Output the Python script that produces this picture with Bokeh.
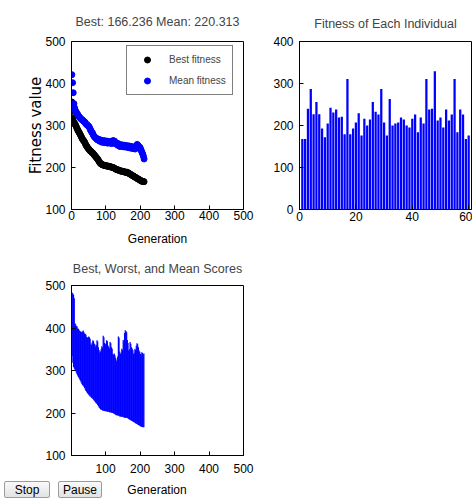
from bokeh.plotting import figure
from bokeh.layouts import column, row
from bokeh.models import Legend, LegendItem, FixedTicker, Range1d, Div
from bokeh.embed import file_html
from bokeh.resources import INLINE

# ---------------- data ----------------
gens = list(range(1, 212, 2))  # generation index (every 2nd generation)

best = [356, 334, 318, 308, 305, 302, 299, 295, 291, 288,
        285, 282, 279, 276, 272, 269, 266, 264, 262, 259,
        255, 252, 250, 247, 245, 243, 241, 239, 238, 236,
        235, 233, 231, 229, 227, 225, 223, 221, 219, 216,
        213, 211, 209, 208, 207, 206, 206, 205, 205, 204,
        204, 204, 203, 203, 203, 202, 202, 201, 201, 200,
        200, 199, 198, 197, 196, 195, 195, 194, 194, 193,
        192, 192, 191, 191, 191, 190, 190, 189, 189, 188,
        189, 188, 187, 186, 185, 184, 183, 182, 181, 180,
        179, 178, 177, 176, 175, 174, 173, 172, 171, 170,
        169, 168, 167, 167, 166.5, 166.236]

mean = [421, 402, 378, 352, 342, 336, 333, 330, 327, 325,
        322, 320, 318, 316, 315, 313, 312, 311, 309, 308,
        305, 303, 302, 300, 299, 297, 294, 290, 287, 284,
        282, 278, 275, 273, 271, 270, 268, 266, 268, 265,
        263, 266, 262, 264, 260, 263, 261, 264, 259, 262,
        260, 263, 258, 261, 259, 262, 258, 260, 257, 262,
        264, 261, 263, 260, 256, 258, 254, 257, 252, 255,
        250, 253, 251, 254, 250, 252, 249, 253, 250, 251,
        248, 252, 249, 247, 251, 248, 246, 250, 247, 245,
        249, 246, 244, 248, 251, 255, 253, 250, 246, 248,
        244, 240, 236, 232, 227, 220.313]

worst = [484, 483, 481, 478, 470, 411, 409, 405, 404, 399,
         398, 396, 393, 392, 391, 390, 392, 394, 390, 387,
         386, 384, 379, 377, 378, 380, 378, 375, 363, 360,
         366, 371, 369, 363, 361, 356, 360, 371, 368, 355,
         348, 342, 345, 350, 357, 354, 382, 378, 365, 363,
         360, 371, 369, 359, 356, 352, 367, 364, 355, 351,
         339, 337, 340, 336, 330, 322, 326, 333, 380, 377,
         345, 339, 342, 351, 348, 372, 368, 388, 395, 393,
         390, 372, 365, 347, 350, 367, 363, 355, 352, 348,
         339, 342, 351, 348, 358, 364, 362, 355, 347, 344,
         339, 336, 343, 341, 338, 340]

individuals = list(range(1, 61))
ind_fitness = [168, 168, 240, 287, 227, 256, 227, 193, 172, 205,
               242, 231, 238, 219, 221, 179, 311, 179, 193, 207,
               229, 176, 216, 200, 214, 256, 233, 226, 287, 207,
               176, 263, 200, 205, 207, 219, 214, 200, 195, 216,
               226, 184, 219, 205, 311, 238, 240, 329, 212, 219,
               195, 238, 212, 226, 311, 184, 238, 226, 168, 176]

ticks_gen = [0, 100, 200, 300, 400, 500]
ticks_gen_b = [100, 200, 300, 400, 500]
ticks_fit = [100, 200, 300, 400, 500]
ticks_ind = [0, 20, 40, 60]
ticks_ind_y = [0, 100, 200, 300, 400]

button_labels = ["Stop", "Pause"]

FONT = "Liberation Sans"
BLUE = "#0000ff"


def make_fig(width, height, bl, br, bt, bb, xr, yr, title, standoff):
    p = figure(width=width, height=height,
               x_range=Range1d(*xr), y_range=Range1d(*yr),
               output_backend="svg", toolbar_location=None,
               min_border_left=bl, min_border_right=br,
               min_border_top=bt, min_border_bottom=bb,
               title=title)
    p.title.text_font = FONT
    p.title.text_font_size = "12.5px"
    p.title.text_font_style = "normal"
    p.title.align = "center"
    p.title.standoff = standoff
    p.xgrid.visible = False
    p.ygrid.visible = False
    p.outline_line_color = "black"
    p.outline_line_alpha = 1
    p.background_fill_color = "white"
    p.border_fill_color = "white"
    return p


def style_axes(p, xticks, yticks, xstand, ystand):
    for ax in (p.below[0], p.left[0]):
        ax.major_tick_in = 4
        ax.major_tick_out = 0
        ax.minor_tick_in = 0
        ax.minor_tick_out = 0
        ax.axis_line_color = "black"
        ax.major_tick_line_color = "black"
        ax.major_label_text_font = FONT
        ax.major_label_text_font_size = "12px"
        ax.major_label_text_color = "black"
        ax.axis_label_text_font_style = "normal"
        ax.axis_label_text_color = "black"
    p.below[0].ticker = FixedTicker(ticks=xticks)
    p.left[0].ticker = FixedTicker(ticks=yticks)
    p.below[0].major_label_standoff = xstand
    p.left[0].major_label_standoff = ystand


# ---------------- top-left: best / mean fitness ----------------
p1 = make_fig(265, 248, 71, 22, 40, 39, (0, 500), (100, 500),
              "Best: 166.236 Mean: 220.313", 25)
style_axes(p1, ticks_gen, ticks_fit, 1, 6)
xa1 = p1.below[0]
xa1.axis_label = "Generation"
xa1.axis_label_text_font = FONT
xa1.axis_label_text_font_size = "12px"
xa1.axis_label_standoff = 9
ya1 = p1.left[0]
ya1.axis_label = "Fitness value"
ya1.axis_label_text_font = "DejaVu Sans"
ya1.axis_label_text_font_size = "15px"
ya1.axis_label_standoff = -3

r_best = p1.scatter(gens, best, size=6, color="black")
r_mean = p1.scatter(gens, mean, size=6, color=BLUE)
legend = Legend(items=[LegendItem(label="Best fitness", renderers=[r_best]),
                       LegendItem(label="Mean fitness", renderers=[r_mean])],
                location=(55, 114), padding=6, spacing=6,
                glyph_width=28, glyph_height=15, label_height=15,
                label_standoff=8, margin=0,
                label_text_font=FONT, label_text_font_size="10px",
                border_line_color="black", border_line_width=1,
                background_fill_color="white", background_fill_alpha=1)
p1.add_layout(legend)

# ---------------- top-right: fitness of each individual ----------------
p2 = make_fig(207, 248, 34, 1, 39, 39, (0, 61), (0, 400),
              "Fitness of Each Individual", 21)
style_axes(p2, ticks_ind, ticks_ind_y, 2, 6)
p2.vbar(x=individuals, top=ind_fitness, bottom=0, width=0.8,
        fill_color=BLUE, line_color=None)

# ---------------- bottom: best, worst, mean scores ----------------
p3 = make_fig(265, 233, 71, 22, 37, 26, (1, 500), (100, 500),
              "Best, Worst, and Mean Scores", 20)
style_axes(p3, ticks_gen_b, ticks_fit, 8, 6)
p3.segment(x0=gens, y0=best, x1=gens, y1=worst, line_color=BLUE,
           line_width=1.2)

# strip under the bottom plot: GA tool buttons and the x-axis caption
btn = ("position:absolute;top:0px;height:17px;line-height:17px;"
       "border:1px solid #9c9c9c;border-radius:2px;text-align:center;"
       "background:linear-gradient(#fafafa,#e2e2e2);color:#000;")
html = (
    "<div style=\"position:relative;width:265px;height:20px;"
    "font-family:'Liberation Sans';font-size:12px;\">"
    f"<div style=\"{btn}left:4px;width:46px;\">{button_labels[0]}</div>"
    f"<div style=\"{btn}left:58px;width:44px;\">{button_labels[1]}</div>"
    "<div style=\"position:absolute;left:71px;width:172px;top:1px;"
    "line-height:16px;text-align:center;color:#000;\">Generation</div>"
    "</div>"
)
strip = Div(text=html, width=265, height=20, margin=0)

layout = column(row(p1, p2), p3, strip)
open("out.html", "w").write(file_html(layout, INLINE))
